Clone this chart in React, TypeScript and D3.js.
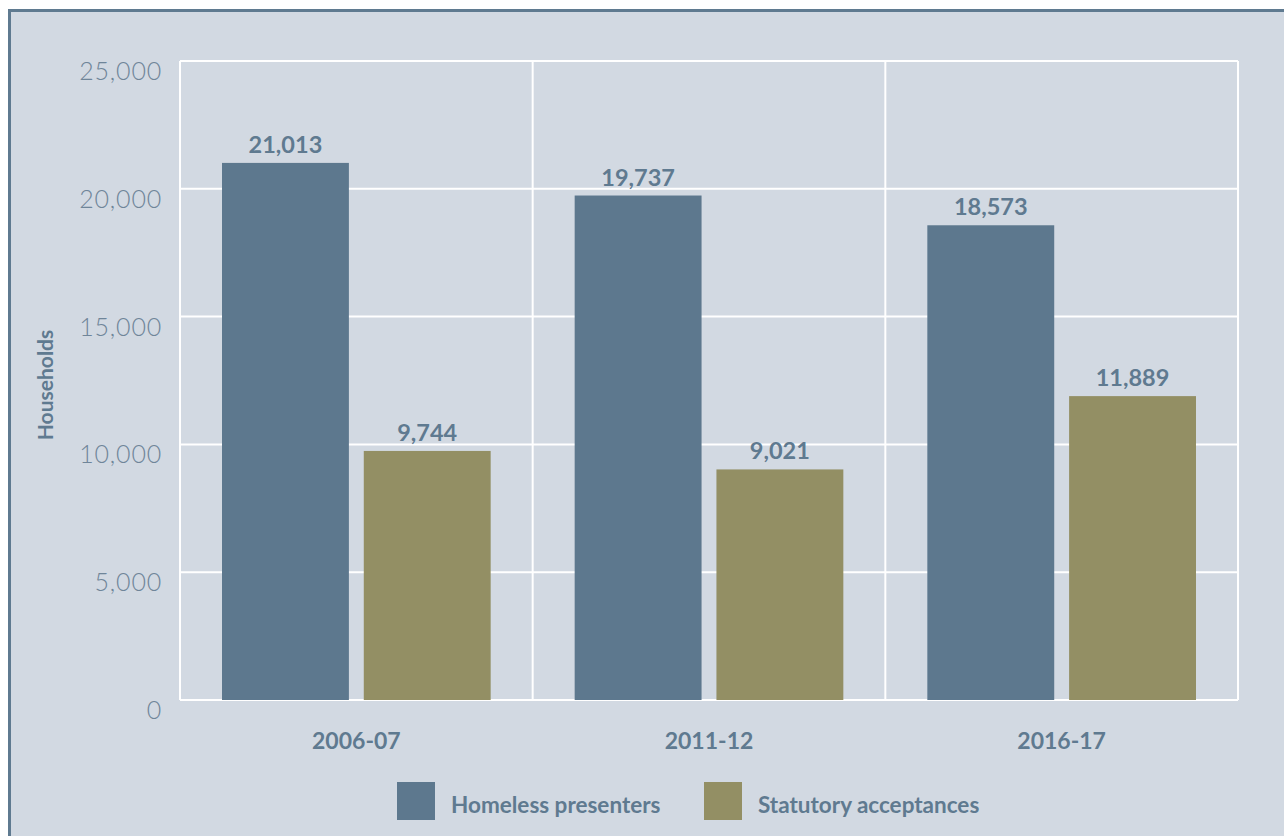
import React from "react";
import * as d3 from "d3";

const categories = ["2006-07", "2011-12", "2016-17"];
const seriesNames = ["Homeless presenters", "Statutory acceptances"];
const homelessPresenters = [21013, 19737, 18573];
const statutoryAcceptances = [9744, 9021, 11889];
const yTicks = [0, 5000, 10000, 15000, 20000, 25000];
const colors = ["#5d788e", "#938f64"];

const W = 1284;
const H = 836;
const plot = { left: 180, right: 1238, top: 61, bottom: 700 };
const textColor = "#5f7a90";
const font = "Lato, 'Open Sans', sans-serif";

export default function App() {
  const x = d3
    .scaleBand<string>()
    .domain(categories)
    .range([plot.left, plot.right])
    .paddingInner(0)
    .paddingOuter(0);
  const inner = d3
    .scaleBand<string>()
    .domain(seriesNames)
    .range([42, x.bandwidth() - 42])
    .paddingInner(0.105)
    .paddingOuter(0);
  const y = d3.scaleLinear().domain([0, 25000]).range([plot.bottom, plot.top]);
  const fmt = d3.format(",");
  const series = [homelessPresenters, statutoryAcceptances];

  return (
    <svg
      width={W}
      height={H}
      style={{ position: "absolute", left: 0, top: 0 }}
      fontFamily={font}
    >
      <rect x={8} y={9} width={W} height={H} fill="#d2d9e2" />
      <line x1={8} y1={10.5} x2={W} y2={10.5} stroke="#5f7a90" strokeWidth={3} />
      <line x1={9.5} y1={9} x2={9.5} y2={H} stroke="#5f7a90" strokeWidth={3} />

      {/* horizontal grid */}
      {yTicks.map((t) => (
        <line
          key={"g" + t}
          x1={plot.left}
          x2={plot.right}
          y1={y(t)}
          y2={y(t)}
          stroke="#ffffff"
          strokeWidth={2}
        />
      ))}
      {/* vertical separators */}
      {[plot.left, ...categories.map((c) => (x(c) as number) + x.bandwidth())].map((v, i) => (
        <line
          key={"v" + i}
          x1={v}
          x2={v}
          y1={plot.top}
          y2={plot.bottom}
          stroke="#ffffff"
          strokeWidth={2}
        />
      ))}

      {/* y tick labels */}
      {yTicks.map((t) => (
        <text
          key={"t" + t}
          x={162}
          y={y(t) + 19}
          textAnchor="end"
          fontSize={25}
          fontWeight={300}
          letterSpacing={0.8}
          fill="#6f8599"
        >
          {fmt(t)}
        </text>
      ))}

      {/* y axis title */}
      <text
        transform={`translate(53, 385) rotate(-90)`}
        textAnchor="middle"
        fontSize={21}
        fontWeight={700}
        fill={textColor}
      >
        Households
      </text>

      {/* bars */}
      {categories.map((c, ci) =>
        seriesNames.map((s, si) => {
          const bx = (x(c) as number) + (inner(s) as number);
          const v = series[si][ci];
          return (
            <g key={c + s}>
              <rect
                x={bx}
                y={y(v)}
                width={inner.bandwidth()}
                height={plot.bottom - y(v)}
                fill={colors[si]}
              />
              <text
                x={bx + inner.bandwidth() / 2}
                y={y(v) - 10}
                textAnchor="middle"
                fontSize={23.5}
                fontWeight={700}
                fill={textColor}
              >
                {fmt(v)}
              </text>
            </g>
          );
        })
      )}

      {/* category labels */}
      {categories.map((c) => (
        <text
          key={"c" + c}
          x={(x(c) as number) + x.bandwidth() / 2}
          y={749}
          textAnchor="middle"
          fontSize={23}
          fontWeight={700}
          fill={textColor}
        >
          {c}
        </text>
      ))}

      {/* legend */}
      {seriesNames.map((s, i) => {
        const lx = i === 0 ? 397 : 704;
        return (
          <g key={"l" + s}>
            <rect x={lx} y={782} width={38} height={38} fill={colors[i]} />
            <text
              x={lx + 54}
              y={813}
              fontSize={22.5}
              fontWeight={700}
              fill={textColor}
            >
              {s}
            </text>
          </g>
        );
      })}
    </svg>
  );
}
